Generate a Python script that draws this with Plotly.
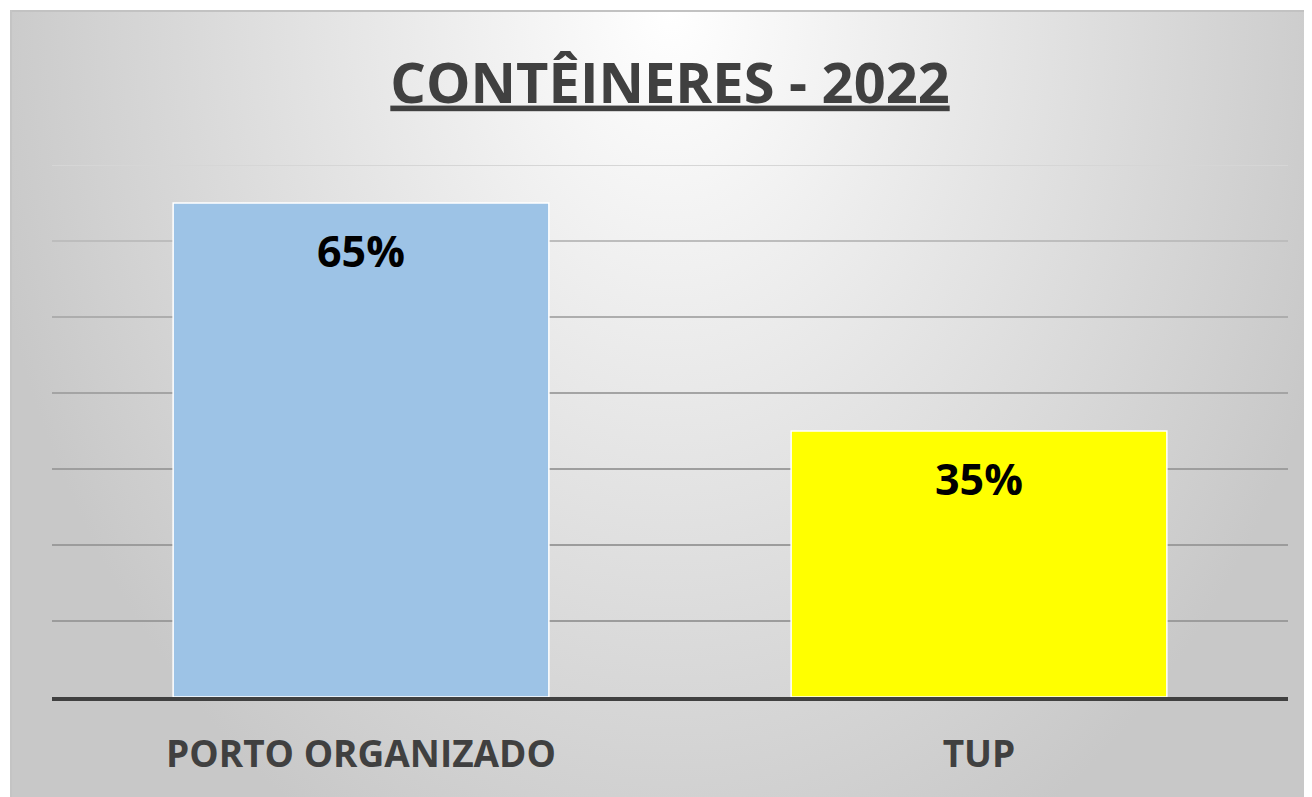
import base64
import plotly.graph_objects as go

# ---- data ----
categories = ["PORTO ORGANIZADO", "TUP"]
shares = [0.65, 0.35]
share_labels = ["65%", "35%"]
bar_colors = ["#9DC3E6", "#FFFF00"]
grid_values = [0.1, 0.2, 0.3, 0.4, 0.5, 0.6, 0.7]
grid_colors = ["#9c9c9c", "#9c9c9c", "#9e9e9e", "#a4a4a4", "#adadad", "#bdbdbd", "#d6d6d6"]
title_text = "CONTÊINERES - 2022"

OFF = 8  # default body margin of the html page
W, H = 1312 - OFF, 797 - OFF
ML, MR, MT, MB = 52 - OFF, 24, 165 - OFF, 100
PW, PH = W - ML - MR, H - MT - MB
FONT = "Open Sans"
TXT = "#404040"

# background panel (radial gradient, light at top centre)
BX0, BY0 = 10 - OFF, 10 - OFF
BW, BH = W - BX0, H - BY0
CX = BW / 2 + 10
svg = f"""<svg xmlns='http://www.w3.org/2000/svg' width='{BW}' height='{BH}' viewBox='0 0 {BW} {BH}' preserveAspectRatio='none'>
<defs><radialGradient id='g' gradientUnits='userSpaceOnUse' cx='{CX}' cy='0' r='700'
 gradientTransform='translate({CX} 0) scale(1 1.35) translate({-CX} 0)'>
<stop offset='0' stop-color='#ffffff'/><stop offset='1' stop-color='#c8c8c8'/></radialGradient></defs>
<rect x='0' y='0' width='{BW}' height='{BH}' fill='url(#g)'/>
<rect x='0' y='0' width='{BW}' height='2' fill='#c2c2c2'/>
<rect x='0' y='0' width='2' height='{BH}' fill='#c4c4c4'/>
</svg>"""
src = "data:image/svg+xml;base64," + base64.b64encode(svg.encode()).decode()

fig = go.Figure()
fig.add_trace(go.Bar(
    x=categories, y=shares,
    marker=dict(color=bar_colors, line=dict(color="#ffffff", width=1.5)),
    hoverinfo="skip", showlegend=False,
))

for c, v, t in zip(categories, shares, share_labels):
    fig.add_annotation(x=c, y=v, xref="x", yref="y", text=t, showarrow=False,
                       yanchor="top", yshift=-16,
                       font=dict(family=FONT, size=43, color="#000000", weight="bold"))

shapes = []
for gv, gc in zip(grid_values, grid_colors):
    shapes.append(dict(type="line", xref="paper", yref="y", x0=0, x1=1, y0=gv, y1=gv,
                       line=dict(color=gc, width=2), layer="below"))

fig.update_layout(
    width=W, height=H,
    margin=dict(l=ML, r=MR, t=MT, b=MB, pad=0),
    paper_bgcolor="#ffffff",
    plot_bgcolor="rgba(0,0,0,0)",
    bargap=0.392,
    shapes=shapes,
    images=[dict(source=src, xref="paper", yref="paper",
                 x=(BX0 - ML) / PW, y=(H - MB - BY0) / PH,
                 sizex=BW / PW, sizey=BH / PH,
                 xanchor="left", yanchor="top", sizing="stretch", layer="below")],
    title=dict(text=title_text, x=0.5, xref="paper", xanchor="center",
               y=1 - 75 / H, yref="container", yanchor="middle",
               font=dict(family=FONT, size=56, color=TXT, weight="bold", lineposition="under")),
    xaxis=dict(showgrid=False, showline=True, linecolor="#404040", linewidth=4,
               ticks="", ticklabelstandoff=22,
               tickfont=dict(family=FONT, size=37, color=TXT, weight="bold")),
    yaxis=dict(range=[0, 0.7], showgrid=False, zeroline=False, showticklabels=False,
               showline=False),
)

fig.write_html("out.html")
